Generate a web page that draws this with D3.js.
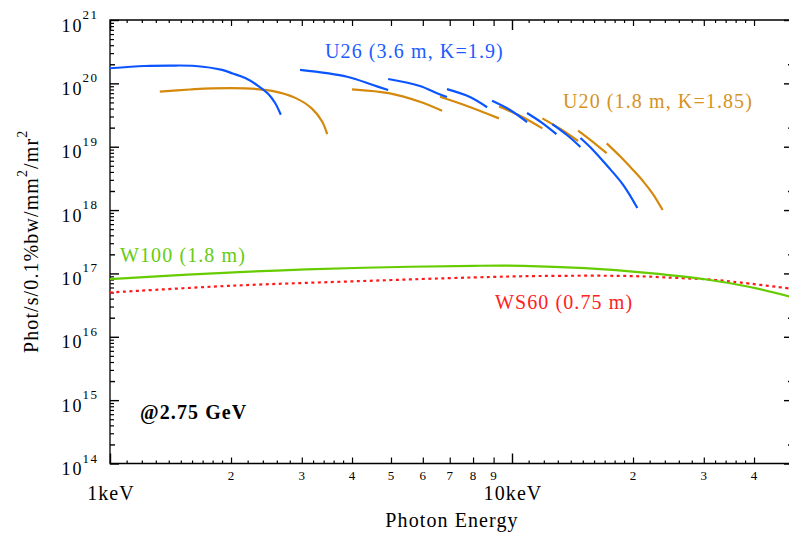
<!DOCTYPE html>
<html lang="en">
<head>
<meta charset="UTF-8">
<title>Brilliance</title>
<script src="https://d3js.org/d3.v7.min.js"></script>
<style>
body { margin: 0; background: #fff; }
text { font-family: "Liberation Serif", "Times New Roman", serif; }
</style>
</head>
<body>
<svg id="chart" width="789" height="533"></svg>
<script>
// harmonic segments, [keV, phot/s/0.1%bw/mm2/mr2]
var u26Segments = [
  [[1.0,1.73e20],[1.22,1.88e20],[1.41,1.91e20],[1.63,1.88e20],[1.90,1.63e20],[2.02,1.43e20],[2.17,1.21e20],[2.33,9.24e19],[2.47,6.9e19],[2.57,4.98e19],[2.66,3.2e19]],
  [[2.97,1.63e20],[3.89,1.27e20],[4.51,9.4e19],[4.92,7.85e19]],
  [[4.92,1.17e20],[5.90,9.1e19],[6.51,7.0e19],[6.89,6.1e19]],
  [[6.89,8.1e19],[7.86,6.1e19],[8.67,4.2e19]],
  [[8.92,5.3e19],[9.89,3.8e19],[10.9,2.45e19]],
  [[10.9,3.4e19],[11.9,2.36e19],[12.9,1.58e19]],
  [[12.6,2.28e19],[13.7,1.53e19],[14.8,9.9e18]],
  [[14.8,1.37e19],[15.9,8.9e18],[17.2,5.1e18],[18.9,2.5e18],[20.5,1.08e18]]
];
var u20Segments = [
  [[1.33,7.4e19],[1.58,8.0e19],[1.79,8.35e19],[2.17,8.35e19],[2.53,7.6e19],[2.89,5.9e19],[3.18,4.0e19],[3.37,2.5e19],[3.47,1.58e19]],
  [[4.0,8.05e19],[4.97,6.96e19],[5.90,5.13e19],[6.70,3.7e19]],
  [[6.62,6.15e19],[7.73,4.4e19],[9.28,2.8e19]],
  [[9.28,4.3e19],[10.5,3.05e19],[11.9,1.95e19]],
  [[11.9,2.8e19],[13.2,1.9e19],[14.6,1.23e19]],
  [[14.6,1.8e19],[15.8,1.23e19],[17.2,7.9e18]],
  [[17.2,1.13e19],[18.6,7.0e18],[20.0,4.3e18],[21.2,2.84e18],[22.4,1.8e18],[23.7,1.0e18]]
];
var w100 = [[1.0,8.1e16],[1.56,9.6e16],[2.59,1.11e17],[4.28,1.23e17],[8.05,1.32e17],[10.65,1.32e17],[15.2,1.21e17],[22.0,1.01e17],[30.2,8.1e16],[39.1,6.1e16],[50,4.2e16]];
var ws60 = [[1.0,5.0e16],[2.01,6.4e16],[4.28,7.6e16],[8.05,8.65e16],[11.7,9.1e16],[19.6,9.1e16],[26.6,8.4e16],[30.7,8.05e16],[35.5,7.4e16],[50,5.7e16]];

var xLabelTicks = [2,3,4,5,6,7,8,9,20,30,40];
var xMinorTicks = [1.1,1.2,1.3,1.4,1.5,1.6,1.7,1.8,1.9,2.2,2.4,2.6,2.8,3.2,3.4,3.6,3.8,
                   11,12,13,14,15,16,17,18,19,22,24,26,28,32,34,36,38];
var xMajorTicks = [1, 10];
var yDecades = [14,15,16,17,18,19,20,21];

var svg = d3.select("#chart"),
    x = d3.scaleLog().domain([1, 50]).range([110, 110 + 402*Math.log10(50)]),
    y = d3.scaleLog().domain([1e14, 1e21]).range([463.5, 20]),
    xL = 110, xR = x(50), yT = 20, yB = 463.5;

var yMinor = [], yTwo = [];
yDecades.slice(0, -1).forEach(function(k) {
  for (var m = 2; m <= 9; m++) {
    if (m == 2) yTwo.push(m*Math.pow(10,k)); else yMinor.push(m*Math.pow(10,k));
  }
});
var yMajor = yDecades.map(function(k){ return Math.pow(10,k); });

function ticks(gen, values, size, width, pos) {
  svg.append("g").attr("transform", pos)
    .call(gen.tickValues(values).tickSize(-size).tickSizeOuter(0).tickFormat(""))
    .call(function(g){ g.select(".domain").remove(); })
    .selectAll("line").attr("stroke-width", width);
}

ticks(d3.axisBottom(x), xMajorTicks, 10, 1.4, "translate(0," + yB + ")");
ticks(d3.axisBottom(x), xLabelTicks, 6, 1.2, "translate(0," + yB + ")");
ticks(d3.axisBottom(x), xMinorTicks, 3, 1.2, "translate(0," + yB + ")");
ticks(d3.axisTop(x), xMajorTicks, 10, 1.4, "translate(0," + yT + ")");
ticks(d3.axisTop(x), xLabelTicks, 6, 1.2, "translate(0," + yT + ")");
ticks(d3.axisTop(x), xMinorTicks, 3, 1.2, "translate(0," + yT + ")");
ticks(d3.axisLeft(y), yMajor, 9, 1.4, "translate(" + xL + ",0)");
ticks(d3.axisLeft(y), yTwo, 5, 1.4, "translate(" + xL + ",0)");
ticks(d3.axisLeft(y), yMinor, 4, 1.2, "translate(" + xL + ",0)");
ticks(d3.axisRight(y), yMajor, 9, 1.4, "translate(" + xR + ",0)");
ticks(d3.axisRight(y), yTwo, 5, 1.4, "translate(" + xR + ",0)");
ticks(d3.axisRight(y), yMinor, 4, 1.2, "translate(" + xR + ",0)");

// frame
svg.append("path")
  .attr("d", "M" + xR + "," + yT + "H" + xL + "V" + yB + "H" + xR)
  .attr("fill", "none").attr("stroke", "#000").attr("stroke-width", 1.3);

// x labels
svg.selectAll(".xl").data(xLabelTicks).enter().append("text")
  .attr("x", function(d){ return x(d); }).attr("y", 479.5)
  .attr("text-anchor", "middle").attr("font-size", 13)
  .text(function(d){ return String(d).charAt(0); });
svg.selectAll(".xm").data(xMajorTicks).enter().append("text")
  .attr("x", function(d){ return x(d) + 1; }).attr("y", 499.5)
  .attr("text-anchor", "middle").attr("font-size", 20).attr("letter-spacing", 1.1)
  .text(function(d){ return d + "keV"; });
svg.append("text").attr("x", 452).attr("y", 527)
  .attr("text-anchor", "middle").attr("font-size", 20).attr("letter-spacing", 1.1)
  .text("Photon Energy");

// y labels
yDecades.forEach(function(k) {
  var yy = y(Math.pow(10,k));
  svg.append("text").attr("x", 61.5).attr("y", yy + 11.5)
    .attr("font-size", 18).attr("letter-spacing", 2).text("10");
  svg.append("text").attr("x", 82.5).attr("y", yy - 1)
    .attr("font-size", 13).attr("letter-spacing", 1.5).text(k);
});
var yt = svg.append("text").attr("transform", "translate(38,353) rotate(-90)")
  .attr("font-size", 20).attr("letter-spacing", 1.1);
yt.append("tspan").text("Phot/s/0.1%bw/mm");
yt.append("tspan").attr("dy", -11).attr("font-size", 14).text("2");
yt.append("tspan").attr("dy", 11).text("/mr");
yt.append("tspan").attr("dy", -11).attr("font-size", 14).text("2");

// curves
svg.append("clipPath").attr("id", "clip").append("rect")
  .attr("x", xL).attr("y", yT).attr("width", xR - xL).attr("height", yB - yT);
var plot = svg.append("g").attr("clip-path", "url(#clip)");
var line = d3.line().curve(d3.curveCatmullRom.alpha(0.5))
  .x(function(d){ return x(d[0]); }).y(function(d){ return y(d[1]); });

plot.append("path").datum(ws60).attr("d", line)
  .attr("fill", "none").attr("stroke", "#ff1a1a").attr("stroke-width", 2.2)
  .attr("stroke-dasharray", "3,3.5");
plot.append("path").datum(w100).attr("d", line)
  .attr("fill", "none").attr("stroke", "#66cc00").attr("stroke-width", 2.2);
u20Segments.forEach(function(s) {
  plot.append("path").datum(s).attr("d", line)
    .attr("fill", "none").attr("stroke", "#d4890c").attr("stroke-width", 2.2);
});
u26Segments.forEach(function(s) {
  plot.append("path").datum(s).attr("d", line)
    .attr("fill", "none").attr("stroke", "#0a55ff").attr("stroke-width", 2.2);
});

// annotations
function note(tx, ty, txt, col, bold) {
  svg.append("text").attr("x", tx).attr("y", ty)
    .attr("font-size", 20).attr("letter-spacing", 1.1)
    .attr("font-weight", bold ? "bold" : null)
    .attr("fill", col).text(txt);
}
note(325, 58, "U26 (3.6 m, K=1.9)", "#1a5cff");
note(563, 108, "U20 (1.8 m, K=1.85)", "#d6921e");
note(120, 262, "W100 (1.8 m)", "#66cc11");
note(495, 309, "WS60 (0.75 m)", "#ff2020");
note(140, 419, "@2.75 GeV", "#000", true);
</script>
</body>
</html>
